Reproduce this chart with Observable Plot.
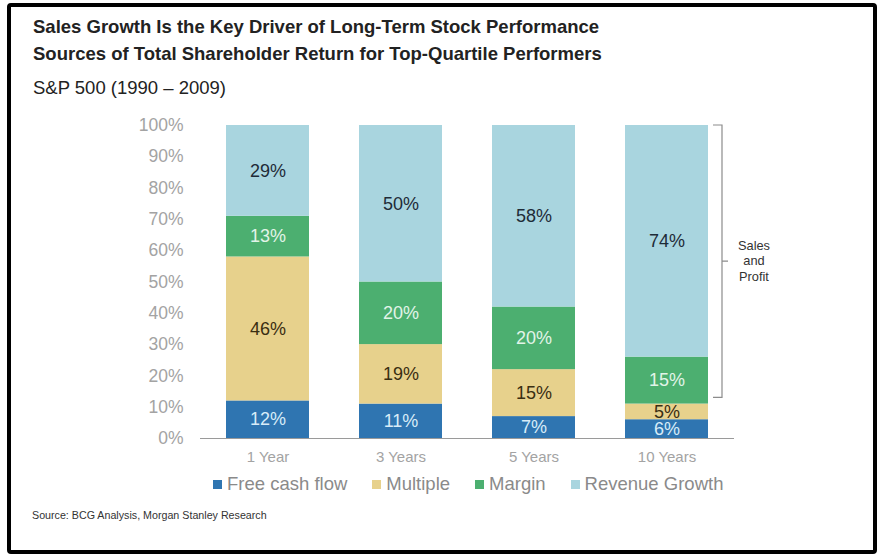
<!DOCTYPE html>
<html><head><meta charset="utf-8">
<script src="https://cdn.jsdelivr.net/npm/d3@7"></script>
<script src="https://cdn.jsdelivr.net/npm/@observablehq/plot@0.6"></script>
<style>
body{margin:0;background:#fff;font-family:"Liberation Sans",Arial,sans-serif;}
#wrap{position:relative;width:884px;height:557px;overflow:hidden;background:#fff;}
#frame{position:absolute;left:7px;top:3px;width:862px;height:543px;border:4px solid #000;border-radius:4px;}
.t{position:absolute;left:33px;white-space:nowrap;line-height:1;color:#222;}
#t1{top:18px;font-size:18.5px;font-weight:bold;}
#t2{top:45px;font-size:18.5px;font-weight:bold;}
#t3{top:79px;font-size:18.5px;}
#chart{position:absolute;left:0;top:105px;}
#legend{position:absolute;left:213px;top:475px;display:flex;gap:25px;font-size:18.5px;line-height:1;color:#8a8a8a;white-space:nowrap;}
#legend .it{display:flex;align-items:center;}
#legend .sw{width:9px;height:9px;margin-right:5px;}
#src{position:absolute;left:32px;top:510px;font-size:10.7px;line-height:1;color:#333;white-space:nowrap;}
</style></head>
<body>
<div id="wrap">
  <div id="frame"></div>
  <div class="t" id="t1">Sales Growth Is the Key Driver of Long-Term Stock Performance</div>
  <div class="t" id="t2">Sources of Total Shareholder Return for Top-Quartile Performers</div>
  <div class="t" id="t3">S&amp;P 500 (1990 – 2009)</div>
  <div id="chart"></div>
  <div id="legend"></div>
  <div id="src">Source: BCG Analysis, Morgan Stanley Research</div>
</div>
<script>
const periods = ["1 Year", "3 Years", "5 Years", "10 Years"];
const series = ["Free cash flow", "Multiple", "Margin", "Revenue Growth"];
const freeCashFlow = [12, 11, 7, 6];
const multiple = [46, 19, 15, 5];
const margin = [13, 20, 20, 15];
const revenueGrowth = [29, 50, 58, 74];
const yTicks = [0, 10, 20, 30, 40, 50, 60, 70, 80, 90, 100];
const barColors = ["#2f75b1", "#e7d18c", "#4caf70", "#a9d5df"];
const labelColors = ["#d8ecf8", "#3a2e12", "#e2f4e8", "#1e2b38"];
const bracketRange = [13, 100];
const bracketText = ["Sales", "and", "Profit"];

const valuesBySeries = [freeCashFlow, multiple, margin, revenueGrowth];
const data = [];
series.forEach((s, si) => periods.forEach((p, pi) => data.push({
  period: p, series: s, value: valuesBySeries[si][pi],
  fill: barColors[si], labelFill: labelColors[si]
})));

const plot = Plot.plot({
  width: 884, height: 370,
  marginLeft: 200, marginRight: 150, marginTop: 20, marginBottom: 37,
  style: {fontFamily: "'Liberation Sans', Arial, sans-serif", background: "transparent"},
  x: {domain: periods, paddingInner: 0.378, paddingOuter: 0.189, label: null},
  y: {domain: [0, 100], label: null},
  marks: [
    Plot.barY(data, {x: "period", y: "value", fill: "fill"}),
    Plot.text(data, Plot.stackY({x: "period", y: "value", text: d => d.value + "%", fill: "labelFill", fontSize: 18})),
    Plot.ruleY([0], {stroke: "#9a9a9a", strokeWidth: 1.2}),
    Plot.axisY(yTicks, {tickSize: 0, tickPadding: 17, tickFormat: d => d + "%", fontSize: 17.5, fill: "#a3a3a3"}),
    Plot.axisX({tickSize: 0, tickPadding: 13, fontSize: 15, fill: "#a3a3a3"})
  ]
});
document.getElementById("chart").appendChild(plot);

// bracket annotation using the plot's scales
const xs = plot.scale("x"), ys = plot.scale("y");
const xEnd = xs.apply(periods[periods.length - 1]) + xs.bandwidth;
const bx = xEnd + 14;
const yTop = ys.apply(bracketRange[1]), yBot = ys.apply(bracketRange[0]);
const yMid = ys.apply((bracketRange[0] + bracketRange[1]) / 2);
const svg = d3.select(plot);
svg.append("path")
  .attr("d", `M${bx - 9},${yTop}H${bx}V${yBot}H${bx - 9}M${bx},${yMid}H${bx + 6}`)
  .attr("fill", "none").attr("stroke", "#8c8c8c").attr("stroke-width", 1.2);
const tg = svg.append("text").attr("text-anchor", "middle")
  .attr("font-size", 12.8).attr("fill", "#333")
  .attr("font-family", "'Liberation Sans', Arial, sans-serif");
bracketText.forEach((w, i) => tg.append("tspan")
  .attr("x", bx + 32).attr("y", yMid - 16 + i * 15.5).attr("dy", "0.35em").text(w));

// legend
const lg = d3.select("#legend");
series.forEach((s, i) => {
  const it = lg.append("div").attr("class", "it");
  it.append("div").attr("class", "sw").style("background", barColors[i]);
  it.append("span").text(s);
});
</script>
</body></html>
